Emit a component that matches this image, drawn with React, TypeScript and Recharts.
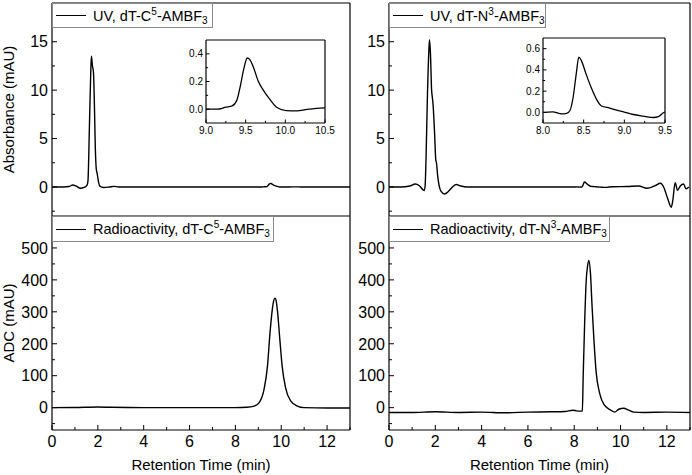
import { LineChart, Line, XAxis, YAxis, ReferenceLine } from "recharts"

const FONT = "'Liberation Sans', Arial, Helvetica, sans-serif"

// retention time axis (min)
const timeTicks = [0, 1, 2, 3, 4, 5, 6, 7, 8, 9, 10, 11, 12, 13]
const timeLabels = [0, 2, 4, 6, 8, 10, 12]

// absorbance axis (mAU)
const uvTicks = [-2.5, 0, 2.5, 5, 7.5, 10, 12.5, 15, 17.5]
const uvLabels = [0, 5, 10, 15]

// radio detector axis (mAU)
const adcTicks = [-50, 0, 50, 100, 150, 200, 250, 300, 350, 400, 450, 500, 550]
const adcLabels = [0, 100, 200, 300, 400, 500]

// inset axes
const c5InsetXTicks = [9, 9.25, 9.5, 9.75, 10, 10.25, 10.5]
const c5InsetXLabels = [9, 9.5, 10, 10.5]
const c5InsetYTicks = [0, 0.1, 0.2, 0.3, 0.4]
const c5InsetYLabels = [0, 0.2, 0.4]
const n3InsetXTicks = [8, 8.25, 8.5, 8.75, 9, 9.25, 9.5]
const n3InsetXLabels = [8, 8.5, 9, 9.5]
const n3InsetYTicks = [0, 0.1, 0.2, 0.3, 0.4, 0.5, 0.6]
const n3InsetYLabels = [0, 0.2, 0.4, 0.6]

// UV, dT-C5-AMBF3
const uvC5Time = [0, 0.5, 0.75, 0.9, 1.05, 1.24, 1.4, 1.53, 1.57, 1.63, 1.69, 1.72, 1.76, 1.81, 1.85, 1.89, 1.93, 1.97, 2.03, 2.1, 2.25, 2.5, 2.7, 2.9, 4, 6, 8, 9, 9.14, 9.25, 9.33, 9.39, 9.43, 9.48, 9.52, 9.55, 9.6, 9.66, 9.72, 9.81, 9.89, 10.01, 10.14, 10.3, 10.5, 11, 12, 13]
const uvC5Abs = [0, 0, 0.05, 0.2, 0.1, -0.14, -0.05, 0.2, 0.65, 6.0, 11.8, 13.5, 12.6, 11.8, 8.5, 4.0, 1.9, 1.4, 0.5, 0.05, -0.05, 0, 0.06, 0, 0, 0, 0, 0, 0, 0.014, 0.024, 0.067, 0.16, 0.3, 0.37, 0.36, 0.3, 0.2, 0.14, 0.067, 0.014, -0.01, -0.012, 0, 0.01, 0, 0, 0]

// UV, dT-N3-AMBF3
const uvN3Time = [0, 0.5, 0.9, 1.13, 1.3, 1.45, 1.52, 1.56, 1.6, 1.66, 1.72, 1.75, 1.79, 1.84, 1.87, 1.9, 1.97, 2.02, 2.05, 2.1, 2.16, 2.25, 2.4, 2.55, 2.7, 2.9, 3.1, 3.4, 5, 7, 8, 8.12, 8.23, 8.29, 8.33, 8.37, 8.41, 8.44, 8.47, 8.53, 8.6, 8.66, 8.72, 8.82, 8.86, 8.99, 9.11, 9.23, 9.36, 9.42, 9.49, 9.7, 10.3, 10.78, 11.14, 11.5, 11.72, 11.86, 12.04, 12.19, 12.25, 12.36, 12.46, 12.58, 12.72, 12.83, 12.95]
const uvN3Abs = [0, 0, 0.1, 0.3, 0.15, -0.25, -0.38, 0.1, 3, 9.4, 14, 15.2, 13.8, 10, 9.3, 8.6, 5.5, 2.8, 2.5, 1.2, 0.2, -0.45, -0.72, -0.5, -0.1, 0.25, 0.1, 0, 0, 0, 0, 0.005, -0.015, -0.01, 0.015, 0.14, 0.37, 0.52, 0.49, 0.36, 0.22, 0.12, 0.06, 0.04, 0.03, 0.005, -0.02, -0.035, -0.048, -0.04, 0, 0.02, 0.05, 0.1, -0.14, 0.14, 0.38, 0, -1.23, -2.1, -1.5, 0.45, -0.35, 0.1, 0.3, -0.2, 0]

// Radioactivity, dT-C5-AMBF3
const radC5Time = [0, 1, 2, 2.6, 4, 6, 8, 8.5, 8.82, 9.03, 9.25, 9.4, 9.51, 9.61, 9.67, 9.73, 9.78, 9.83, 9.94, 10.04, 10.19, 10.41, 10.7, 11, 12, 13]
const radC5Adc = [0, 0.5, 2, 1, 0, 0, 0, 1, 5, 15, 57, 130, 234, 307, 334, 343, 334, 307, 213, 130, 62, 21, 5, 0, -1, -1]

// Radioactivity, dT-N3-AMBF3
const radN3Time = [0, 1, 2, 3, 4, 5, 6, 7, 7.6, 7.94, 8.1, 8.3, 8.35, 8.39, 8.45, 8.52, 8.58, 8.63, 8.7, 8.77, 8.85, 8.95, 9.09, 9.28, 9.56, 9.75, 9.92, 10.14, 10.35, 10.57, 11, 12, 13]
const radN3Adc = [-15, -15, -13, -15, -14, -16, -14, -13, -12, -8, -10, -11, -10, 109, 266, 401, 445, 461, 422, 318, 213, 109, 47, 10, -7, -14, -5, -2, -8, -14, -15, -14, -15]

const toRows = (t: number[], v: number[]) => t.map((x, i) => ({ t: x, v: v[i] }))

const uvC5 = toRows(uvC5Time, uvC5Abs)
const uvN3 = toRows(uvN3Time, uvN3Abs)
const radC5 = toRows(radC5Time, radC5Adc)
const radN3 = toRows(radN3Time, radN3Adc)

const axisLine = { stroke: "#000", strokeWidth: 1.2 }
const int = (v: number) => String(v)
const oneDec = (v: number) => v.toFixed(1)

// ticks point inward like Origin does
function XTick({ x, y, payload, majors, showLabel, fontSize, len, fmt }: any) {
  const major = majors.includes(payload.value)
  return (
    <g>
      <line x1={x} x2={x} y1={y} y2={y - (major ? len : len * 0.6)} stroke="#000" strokeWidth={1} />
      {showLabel && major && (
        <text x={x} y={y + fontSize + 1} textAnchor="middle" fontSize={fontSize} fontFamily={FONT} fill="#000">
          {fmt(payload.value)}
        </text>
      )}
    </g>
  )
}

function YTick({ x, y, payload, majors, fontSize, len, gap, fmt }: any) {
  const major = majors.includes(payload.value)
  return (
    <g>
      <line x1={x} x2={x + (major ? len : len * 0.6)} y1={y} y2={y} stroke="#000" strokeWidth={1} />
      {major && (
        <text x={x - gap} y={y} dy="0.36em" textAnchor="end" fontSize={fontSize} fontFamily={FONT} fill="#000">
          {fmt(payload.value)}
        </text>
      )}
    </g>
  )
}

function Panel({ left, top, yWidth, plotW, plotH, xHeight, data, yDomain, yTicks, yLabels, yTitle, showX }: any) {
  const W = yWidth + plotW + 3
  const H = 2 + plotH + xHeight + (showX ? 0 : 2)
  return (
    <div style={{ position: "absolute", left: left - yWidth, top: top - 2 }}>
      <LineChart width={W} height={H} data={data} margin={{ top: 2, right: 3, bottom: showX ? 0 : 2, left: 0 }}>
        <XAxis
          dataKey="t"
          type="number"
          domain={[0, 13]}
          ticks={timeTicks}
          interval={0}
          allowDataOverflow
          height={xHeight}
          tickSize={0}
          tickMargin={0}
          axisLine={axisLine}
          tickLine={false}
          tick={(p: any) => <XTick {...p} majors={timeLabels} showLabel={showX} fontSize={16} len={5} fmt={int} />}
          label={showX ? { value: "Retention Time (min)", position: "insideBottom", offset: 5, style: { fontFamily: FONT, fontSize: 15, fill: "#000" } } : undefined}
        />
        <YAxis
          type="number"
          domain={yDomain}
          ticks={yTicks}
          interval={0}
          allowDataOverflow
          width={yWidth}
          tickSize={0}
          tickMargin={0}
          axisLine={axisLine}
          tickLine={false}
          tick={(p: any) => <YTick {...p} majors={yLabels} fontSize={16} len={5} gap={4} fmt={int} />}
          label={yTitle ? { value: yTitle, angle: -90, position: "insideLeft", offset: 9, style: { textAnchor: "middle", fontFamily: FONT, fontSize: 15, fill: "#000" } } : undefined}
        />
        <ReferenceLine y={yDomain[1]} stroke="#000" strokeWidth={1.2} />
        <ReferenceLine x={13} stroke="#000" strokeWidth={1.2} />
        <Line type="monotone" dataKey="v" stroke="#000" strokeWidth={1.4} dot={false} isAnimationActive={false} />
      </LineChart>
    </div>
  )
}

function Inset({ left, top, plotW, plotH, data, xDomain, xTicks, xLabels, yDomain, yTicks, yLabels }: any) {
  const yW = 24
  const xH = 14
  return (
    <div style={{ position: "absolute", left: left - yW, top: top - 2 }}>
      <LineChart width={yW + plotW + 12} height={2 + plotH + xH} data={data} margin={{ top: 2, right: 12, bottom: 0, left: 0 }}>
        <XAxis
          dataKey="t"
          type="number"
          domain={xDomain}
          ticks={xTicks}
          interval={0}
          allowDataOverflow
          height={xH}
          tickSize={0}
          tickMargin={0}
          axisLine={axisLine}
          tickLine={false}
          tick={(p: any) => <XTick {...p} majors={xLabels} showLabel fontSize={10} len={3.5} fmt={oneDec} />}
        />
        <YAxis
          type="number"
          domain={yDomain}
          ticks={yTicks}
          interval={0}
          allowDataOverflow
          width={yW}
          tickSize={0}
          tickMargin={0}
          axisLine={axisLine}
          tickLine={false}
          tick={(p: any) => <YTick {...p} majors={yLabels} fontSize={10} len={3.5} gap={3} fmt={oneDec} />}
        />
        <ReferenceLine y={yDomain[1]} stroke="#000" strokeWidth={1.2} />
        <ReferenceLine x={xDomain[1]} stroke="#000" strokeWidth={1.2} />
        <Line type="monotone" dataKey="v" stroke="#000" strokeWidth={1.3} dot={false} isAnimationActive={false} />
      </LineChart>
    </div>
  )
}

function LegendBox({ left, top, width, height, kind, iso, isoNum }: any) {
  return (
    <div
      style={{
        position: "absolute",
        left,
        top,
        width,
        height,
        boxSizing: "border-box",
        border: "1px solid #8a8a8a",
        background: "#fff",
        display: "flex",
        alignItems: "center",
        fontFamily: FONT,
        fontSize: 14.5,
        color: "#000",
        whiteSpace: "nowrap",
      }}
    >
      <span style={{ width: 30, borderTop: "1.5px solid #000", marginLeft: 3, marginRight: 7 }} />
      <span>
        {kind}, dT-{iso}
        <span style={{ fontSize: 10, position: "relative", top: -6 }}>{isoNum}</span>
        -AMBF
        <span style={{ fontSize: 10, position: "relative", top: 3 }}>3</span>
      </span>
    </div>
  )
}

export default function App() {
  return (
    <div style={{ position: "absolute", left: 0, top: 0, width: 692, height: 475, background: "#fff", overflow: "hidden" }}>
      <Panel left={52} top={3} yWidth={52} plotW={298} plotH={213} xHeight={0} data={uvC5} yDomain={[-3, 19]} yTicks={uvTicks} yLabels={uvLabels} yTitle="Absorbance (mAU)" showX={false} />
      <Panel left={52} top={216} yWidth={52} plotW={298} plotH={214} xHeight={45} data={radC5} yDomain={[-70, 600]} yTicks={adcTicks} yLabels={adcLabels} yTitle="ADC (mAU)" showX />
      <Panel left={389} top={3} yWidth={40} plotW={301} plotH={213} xHeight={0} data={uvN3} yDomain={[-3, 19]} yTicks={uvTicks} yLabels={uvLabels} showX={false} />
      <Panel left={389} top={216} yWidth={40} plotW={301} plotH={214} xHeight={45} data={radN3} yDomain={[-70, 600]} yTicks={adcTicks} yLabels={adcLabels} showX />

      <Inset left={206} top={40} plotW={119} plotH={83} data={uvC5} xDomain={[9, 10.5]} xTicks={c5InsetXTicks} xLabels={c5InsetXLabels} yDomain={[-0.1, 0.5]} yTicks={c5InsetYTicks} yLabels={c5InsetYLabels} />
      <Inset left={543} top={38} plotW={122} plotH={85} data={uvN3} xDomain={[8, 9.5]} xTicks={n3InsetXTicks} xLabels={n3InsetXLabels} yDomain={[-0.1, 0.7]} yTicks={n3InsetYTicks} yLabels={n3InsetYLabels} />

      <LegendBox left={52} top={3} width={161} height={25} kind="UV" iso="C" isoNum="5" />
      <LegendBox left={52} top={216} width={222} height={26} kind="Radioactivity" iso="C" isoNum="5" />
      <LegendBox left={389} top={3} width={157} height={25} kind="UV" iso="N" isoNum="3" />
      <LegendBox left={389} top={216} width={221} height={26} kind="Radioactivity" iso="N" isoNum="3" />
    </div>
  )
}
